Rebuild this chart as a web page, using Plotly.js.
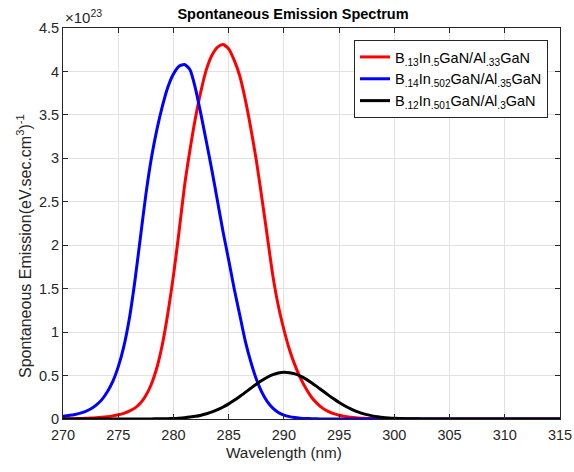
<!DOCTYPE html>
<html>
<head>
<meta charset="utf-8">
<script src="https://cdn.plot.ly/plotly-3.0.1.min.js"></script>
<style>html,body{margin:0;padding:0;background:#fff;}#chart{width:574px;height:472px;}</style>
</head>
<body>
<div id="chart"></div>
<script>
// Wavelength (nm)
const wavelength = [270,270.5,271,271.5,272,272.5,273,273.5,274,274.5,275,275.5,276,276.5,277,277.5,278,278.5,279,279.5,
  280,280.5,281,281.5,282,282.5,283,283.5,284,284.5,285,285.5,286,286.5,287,287.5,288,288.5,289,289.5,
  290,290.5,291,291.5,292,292.5,293,293.5,294,294.5,295,295.5,296,296.5,297,297.5,298,298.5,299,299.5,
  300,301,302,303,305,310,315];
// Spontaneous emission, in units of 1e23 (eV.sec.cm^3)^-1
const redSeries = [0.002,0.003,0.004,0.006,0.008,0.011,0.015,0.02,0.027,0.036,0.048,0.065,0.09,0.125,0.18,0.27,0.4,0.59,0.86,1.22,
  1.65,2.15,2.68,3.1,3.47,3.78,4.03,4.19,4.28,4.31,4.26,4.13,3.95,3.68,3.35,2.98,2.55,2.1,1.65,1.3,
  1.03,0.8,0.62,0.47,0.35,0.25,0.18,0.125,0.088,0.062,0.043,0.03,0.021,0.014,0.01,0.007,0.005,0.003,0.002,0.001,
  0.001,0,0,0,0,0,0];
const blueSeries = [0.03,0.04,0.05,0.065,0.085,0.115,0.16,0.22,0.31,0.43,0.6,0.83,1.15,1.58,2.08,2.58,3.0,3.33,3.6,3.82,
  3.97,4.06,4.08,4.02,3.8,3.5,3.18,2.85,2.5,2.15,1.83,1.5,1.2,0.9,0.66,0.46,0.31,0.2,0.125,0.075,
  0.045,0.027,0.016,0.01,0.006,0.004,0.002,0.001,0.001,0,0,0,0,0,0,0,0,0,0,0,
  0,0,0,0,0,0,0];
const blackSeries = [0,0,0,0,0,0,0,0,0,0,0,0,0,0,0,0,0.001,0.002,0.003,0.004,
  0.006,0.01,0.015,0.022,0.031,0.044,0.061,0.081,0.107,0.138,0.174,0.215,0.259,0.306,0.354,0.401,0.444,0.481,0.51,0.529,
  0.537,0.533,0.519,0.493,0.459,0.418,0.373,0.325,0.278,0.232,0.19,0.152,0.119,0.091,0.068,0.05,0.036,0.025,0.017,0.012,
  0.008,0.004,0.002,0.001,0,0,0];
const seriesNames = [
  'B<sub>.13</sub>In<sub>.5</sub>GaN/Al<sub>.33</sub>GaN',
  'B<sub>.14</sub>In<sub>.502</sub>GaN/Al<sub>.35</sub>GaN',
  'B<sub>.12</sub>In<sub>.501</sub>GaN/Al<sub>.3</sub>GaN'
];
const xTicks = [270,275,280,285,290,295,300,305,310,315];
const yTicks = [0,0.5,1,1.5,2,2.5,3,3.5,4,4.5];
const yTickText = ['0','0.5','1','1.5','2','2.5','3','3.5','4','4.5'];
const chartTitle = 'Spontaneous Emission Spectrum';
const xTitle = 'Wavelength (nm)';
const yTitle = 'Spontaneous Emission(eV.sec.cm<sup>3</sup>)<sup>-1</sup>';
const exponentLabel = '×10<sup>23</sup>';

const FONT = 'Liberation Sans, Arial, Helvetica, sans-serif';
const colors = ['#ff0000','#0000ff','#000000'];
const series = [redSeries, blueSeries, blackSeries];
const traces = series.map((s,i)=>({
  x: wavelength, y: s, type:'scatter', mode:'lines', name: seriesNames[i],
  line:{color:colors[i], width:3, shape:'spline', smoothing:0.6}
}));

const axisCommon = {
  showline:true, linecolor:'#262626', linewidth:1, mirror:'ticks',
  ticks:'inside', ticklen:5, tickcolor:'#262626',
  showgrid:true, gridcolor:'#e1e1e1', gridwidth:1, zeroline:false,
  tickfont:{family:FONT, size:14.5, color:'#262626'}
};

const L = 63, R = 560, T = 28, B = 419, W = 574, H = 472;
const px2x = p => (p - L) / (R - L);
const px2y = p => (B - p) / (B - T);

const layout = {
  width:W, height:H,
  margin:{l:L, r:W-R, t:T, b:H-B},
  paper_bgcolor:'#ffffff', plot_bgcolor:'#ffffff',
  showlegend:true,
  title:{text:'<b>'+chartTitle+'</b>', x:px2x(293), xref:'paper', xanchor:'center',
         y:1-14/H, yref:'container', yanchor:'middle',
         font:{family:FONT, size:14.5, color:'#000'}},
  xaxis:Object.assign({}, axisCommon, {
    range:[270,315], tickvals:xTicks, ticktext:xTicks.map(String), ticklabelstandoff:3
  }),
  yaxis:Object.assign({}, axisCommon, {
    range:[0,4.5], tickvals:yTicks, ticktext:yTickText
  }),
  legend:{x:px2x(548), xanchor:'right', y:px2y(40), yanchor:'top',
    bgcolor:'#ffffff', bordercolor:'#262626', borderwidth:1,
    font:{family:FONT, size:14.5, color:'#000'},
    tracegroupgap:0},
  annotations:[
    {text:exponentLabel, xref:'paper', yref:'paper', x:0, y:1,
     xanchor:'left', yanchor:'bottom', showarrow:false, yshift:0,
     font:{family:FONT, size:15, color:'#262626'}},
    {text:xTitle, xref:'paper', yref:'paper', x:px2x(284), y:px2y(452),
     xanchor:'center', yanchor:'middle', showarrow:false,
     font:{family:FONT, size:15.3, color:'#262626'}},
    {text:yTitle, xref:'paper', yref:'paper', x:px2x(24), y:px2y(246),
     xanchor:'center', yanchor:'middle', showarrow:false, textangle:-90,
     font:{family:FONT, size:16, color:'#262626'}}
  ]
};

Plotly.newPlot('chart', traces, layout, {displayModeBar:false, staticPlot:true});
</script>
</body>
</html>
